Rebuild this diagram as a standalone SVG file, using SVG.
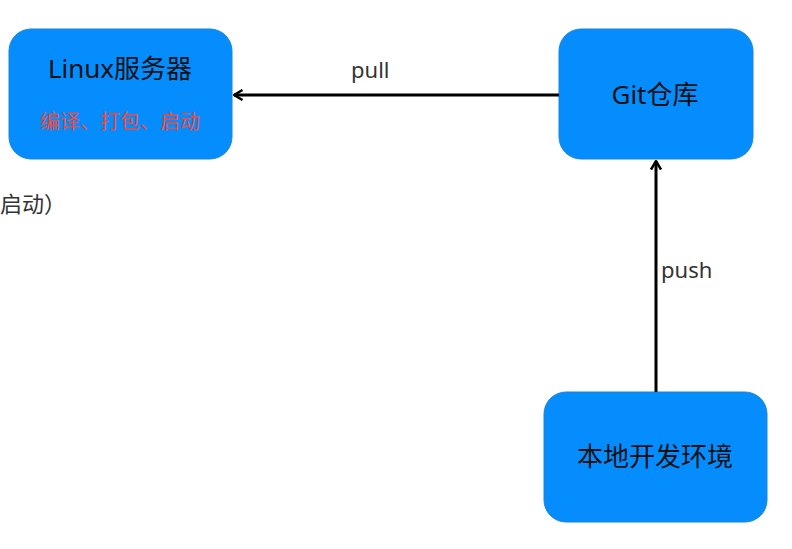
<svg xmlns="http://www.w3.org/2000/svg" width="792" height="549" viewBox="0 0 792 549">
<style>
.node{fill:#058cfd;stroke:#1a86d6;stroke-width:1}
.t{font-family:"Noto Sans","Noto Sans CJK SC",sans-serif;fill:#111;text-anchor:middle}
.lbl{font-family:"Noto Sans","Noto Sans CJK SC",sans-serif;fill:#333;font-size:22px}
.edge{stroke:#000;stroke-width:3;fill:none}
</style>
<defs>
<marker id="arr" viewBox="0 0 12 12" refX="10.5" refY="6" markerWidth="12" markerHeight="12" markerUnits="userSpaceOnUse" orient="auto">
<path d="M2,1 L10.5,6 L2,11" fill="none" stroke="#000" stroke-width="2.5"/>
</marker>
</defs>
<rect width="792" height="549" fill="#fff"/>
<text class="lbl" x="0" y="212">启动）</text>
<g id="linux">
<rect class="node" x="9" y="29" width="223" height="130" rx="22"/>
<text class="t" x="120" y="78" font-size="26">Linux服务器</text>
<text class="t" x="120" y="129" font-size="20" style="fill:#f04a3a">编译、打包、启动</text>
</g>
<g id="git">
<rect class="node" x="559" y="29" width="194" height="130" rx="22"/>
<text class="t" x="655" y="104" font-size="26">Git仓库</text>
</g>
<g id="local">
<rect class="node" x="544" y="392" width="223" height="130" rx="22"/>
<text class="t" x="655" y="466" font-size="26">本地开发环境</text>
</g>
<g id="edges">
<line class="edge" x1="559" y1="95" x2="234" y2="95" marker-end="url(#arr)"/>
<text class="lbl" x="351" y="78">pull</text>
<line class="edge" x1="656" y1="392" x2="656" y2="161" marker-end="url(#arr)"/>
<text class="lbl" x="661" y="278">push</text>
</g>
</svg>
